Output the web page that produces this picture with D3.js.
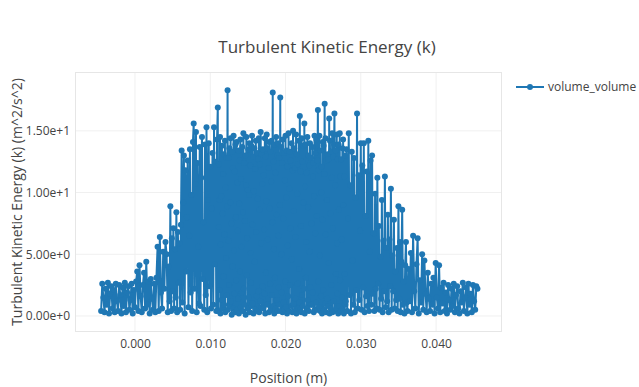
<!DOCTYPE html>
<html>
<head>
<meta charset="utf-8">
<script src="https://cdn.jsdelivr.net/npm/d3@7"></script>
<style>
  html, body { margin: 0; padding: 0; background: #fff; }
  text { font-family: "Open Sans", verdana, arial, sans-serif; }
</style>
</head>
<body>
<div id="chart"></div>
<script>
// --- DATA ---
const chartTitle = "Turbulent Kinetic Energy (k)";
const xTitle = "Position (m)";
const yTitle = "Turbulent Kinetic Energy (k) (m^2/s^2)";
const seriesName = "volume_volume";

const xTicks = [0, 0.01, 0.02, 0.03, 0.04];
const xTickLabels = ["0.000", "0.010", "0.020", "0.030", "0.040"];
const yTicks = [0, 5, 10, 15];
const yTickLabels = ["0.00e+0", "5.00e+0", "1.00e+1", "1.50e+1"];

// position (m)
const position = [
  // left tail
  -0.0045, -0.00435, -0.0042, -0.00405, -0.0039, -0.00375, -0.0036, -0.00345, -0.0033, -0.00315,
  -0.003, -0.00285, -0.0027, -0.00255, -0.0024, -0.00225, -0.0021, -0.00195, -0.0018, -0.00165,
  -0.0015, -0.00135, -0.0012, -0.00105, -0.0009, -0.00075, -0.0006, -0.00045, -0.0003, -0.00015,
  0, 0.00015, 0.0003, 0.00045, 0.0006, 0.00075, 0.0009, 0.00105, 0.0012, 0.00135,
  0.0015, 0.00165, 0.0018, 0.00195, 0.0021, 0.00225, 0.0024, 0.00255, 0.0027, 0.00285,
  0.003, 0.00315, 0.0033, 0.00345, 0.0036, 0.00375, 0.0039, 0.00405, 0.0042, 0.00435,
  0.0045,
  // rising flank
  0.0046, 0.0047, 0.0048, 0.0049, 0.0050, 0.0051, 0.0052, 0.0053, 0.0054, 0.0055,
  0.0056, 0.0057, 0.0058, 0.0059, 0.0060, 0.0061, 0.0062, 0.0063, 0.0064, 0.0065,
  0.0066, 0.0067, 0.0068, 0.0069, 0.0070, 0.0071, 0.0072, 0.0073, 0.0074, 0.0075,
  0.0076, 0.0077, 0.0078, 0.0079, 0.0080, 0.0081, 0.0082, 0.0083, 0.0084, 0.0085,
  0.0086, 0.0087, 0.0088, 0.0089, 0.0090, 0.0091, 0.0092, 0.0093, 0.0094, 0.0095,
  0.0096, 0.0097, 0.0098, 0.0099, 0.0100, 0.0101, 0.0102, 0.0103, 0.0104, 0.0105,
  0.0106, 0.0107, 0.0108, 0.0109,
  // dense core
  0.01100, 0.01105, 0.01110, 0.01115, 0.01120, 0.01125, 0.01130, 0.01135, 0.01140, 0.01145,
  0.01150, 0.01155, 0.01160, 0.01165, 0.01170, 0.01175, 0.01180, 0.01185, 0.01190, 0.01195,
  0.01200, 0.01205, 0.01210, 0.01215, 0.01220, 0.01225, 0.01230, 0.01235, 0.01240, 0.01245,
  0.01250, 0.01255, 0.01260, 0.01265, 0.01270, 0.01275, 0.01280, 0.01285, 0.01290, 0.01295,
  0.01300, 0.01305, 0.01310, 0.01315, 0.01320, 0.01325, 0.01330, 0.01335, 0.01340, 0.01345,
  0.01350, 0.01355, 0.01360, 0.01365, 0.01370, 0.01375, 0.01380, 0.01385, 0.01390, 0.01395,
  0.01400, 0.01405, 0.01410, 0.01415, 0.01420, 0.01425, 0.01430, 0.01435, 0.01440, 0.01445,
  0.01450, 0.01455, 0.01460, 0.01465, 0.01470, 0.01475, 0.01480, 0.01485, 0.01490, 0.01495,
  0.01500, 0.01505, 0.01510, 0.01515, 0.01520, 0.01525, 0.01530, 0.01535, 0.01540, 0.01545,
  0.01550, 0.01555, 0.01560, 0.01565, 0.01570, 0.01575, 0.01580, 0.01585, 0.01590, 0.01595,
  0.01600, 0.01605, 0.01610, 0.01615, 0.01620, 0.01625, 0.01630, 0.01635, 0.01640, 0.01645,
  0.01650, 0.01655, 0.01660, 0.01665, 0.01670, 0.01675, 0.01680, 0.01685, 0.01690, 0.01695,
  0.01700, 0.01705, 0.01710, 0.01715, 0.01720, 0.01725, 0.01730, 0.01735, 0.01740, 0.01745,
  0.01750, 0.01755, 0.01760, 0.01765, 0.01770, 0.01775, 0.01780, 0.01785, 0.01790, 0.01795,
  0.01800, 0.01805, 0.01810, 0.01815, 0.01820, 0.01825, 0.01830, 0.01835, 0.01840, 0.01845,
  0.01850, 0.01855, 0.01860, 0.01865, 0.01870, 0.01875, 0.01880, 0.01885, 0.01890, 0.01895,
  0.01900, 0.01905, 0.01910, 0.01915, 0.01920, 0.01925, 0.01930, 0.01935, 0.01940, 0.01945,
  0.01950, 0.01955, 0.01960, 0.01965, 0.01970, 0.01975, 0.01980, 0.01985, 0.01990, 0.01995,
  0.02000, 0.02005, 0.02010, 0.02015, 0.02020, 0.02025, 0.02030, 0.02035, 0.02040, 0.02045,
  0.02050, 0.02055, 0.02060, 0.02065, 0.02070, 0.02075, 0.02080, 0.02085, 0.02090, 0.02095,
  0.02100, 0.02105, 0.02110, 0.02115, 0.02120, 0.02125, 0.02130, 0.02135, 0.02140, 0.02145,
  0.02150, 0.02155, 0.02160, 0.02165, 0.02170, 0.02175, 0.02180, 0.02185, 0.02190, 0.02195,
  0.02200, 0.02205, 0.02210, 0.02215, 0.02220, 0.02225, 0.02230, 0.02235, 0.02240, 0.02245,
  0.02250, 0.02255, 0.02260, 0.02265, 0.02270, 0.02275, 0.02280, 0.02285, 0.02290, 0.02295,
  0.02300, 0.02305, 0.02310, 0.02315, 0.02320, 0.02325, 0.02330, 0.02335, 0.02340, 0.02345,
  0.02350, 0.02355, 0.02360, 0.02365, 0.02370, 0.02375, 0.02380, 0.02385, 0.02390, 0.02395,
  0.02400, 0.02405, 0.02410, 0.02415, 0.02420, 0.02425, 0.02430, 0.02435, 0.02440, 0.02445,
  0.02450, 0.02455, 0.02460, 0.02465, 0.02470, 0.02475, 0.02480, 0.02485, 0.02490, 0.02495,
  0.02500, 0.02505, 0.02510, 0.02515, 0.02520, 0.02525, 0.02530, 0.02535, 0.02540, 0.02545,
  0.02550, 0.02555, 0.02560, 0.02565, 0.02570, 0.02575, 0.02580, 0.02585, 0.02590, 0.02595,
  0.02600, 0.02605, 0.02610, 0.02615, 0.02620, 0.02625, 0.02630, 0.02635, 0.02640, 0.02645,
  0.02650, 0.02655, 0.02660, 0.02665, 0.02670, 0.02675, 0.02680, 0.02685, 0.02690, 0.02695,
  0.02700, 0.02705, 0.02710, 0.02715, 0.02720, 0.02725, 0.02730, 0.02735, 0.02740, 0.02745,
  0.02750, 0.02755, 0.02760, 0.02765, 0.02770, 0.02775, 0.02780, 0.02785, 0.02790, 0.02795,
  0.02800,
  // falling flank
  0.0281, 0.0282, 0.0283, 0.0284, 0.0285, 0.0286, 0.0287, 0.0288, 0.0289, 0.0290,
  0.0291, 0.0292, 0.0293, 0.0294, 0.0295, 0.0296, 0.0297, 0.0298, 0.0299, 0.0300,
  0.0301, 0.0302, 0.0303, 0.0304, 0.0305, 0.0306, 0.0307, 0.0308, 0.0309, 0.0310,
  0.0311, 0.0312, 0.0313, 0.0314, 0.0315, 0.0316, 0.0317, 0.0318, 0.0319, 0.0320,
  0.0321, 0.0322, 0.0323, 0.0324, 0.0325, 0.0326, 0.0327, 0.0328, 0.0329, 0.0330,
  0.0331, 0.0332, 0.0333, 0.0334, 0.0335, 0.0336, 0.0337, 0.0338, 0.0339, 0.0340,
  0.0341, 0.0342, 0.0343, 0.0344, 0.0345, 0.0346, 0.0347, 0.0348, 0.0349, 0.0350,
  0.0351, 0.0352, 0.0353, 0.0354, 0.0355, 0.0356, 0.0357, 0.0358, 0.0359, 0.0360,
  0.0361,
  // right tail
  0.0362, 0.03635, 0.0365, 0.03665, 0.0368, 0.03695, 0.0371, 0.03725, 0.0374, 0.03755,
  0.0377, 0.03785, 0.038, 0.03815, 0.0383, 0.03845, 0.0386, 0.03875, 0.0389, 0.03905,
  0.0392, 0.03935, 0.0395, 0.03965, 0.0398, 0.03995, 0.0401, 0.04025, 0.0404, 0.04055,
  0.0407, 0.04085, 0.041, 0.04115, 0.0413, 0.04145, 0.0416, 0.04175, 0.0419, 0.04205,
  0.0422, 0.04235, 0.0425, 0.04265, 0.0428, 0.04295, 0.0431, 0.04325, 0.0434, 0.04355,
  0.0437, 0.04385, 0.044, 0.04415, 0.0443, 0.04445, 0.0446, 0.04475, 0.0449, 0.04505,
  0.0452, 0.04535, 0.0455
];

// turbulent kinetic energy k (m^2/s^2), same order as position
const tke = [
  // left tail
  0.4, 2.6, 1.5, 0.3, 2.2, 0.9, 2.7, 0.2, 1.8, 2.4,
  0.6, 2.1, 0.3, 2.6, 1.2, 0.4, 2.5, 1.7, 0.2, 2.3,
  0.8, 2.7, 0.3, 1.9, 2.4, 0.5, 1.3, 2.6, 0.2, 2.1,
  0.7, 2.8, 3.6, 0.4, 4.1, 1.6, 0.3, 2.5, 3.5, 0.6,
  4.4, 0.9, 2.8, 0.2, 3.0, 1.4, 0.5, 2.6, 0.3, 3.1,
  5.6, 0.4, 6.4, 1.9, 0.6, 5.2, 2.2, 6.0, 5.0, 0.3,
  4.0,
  // rising flank
  1.2, 8.9, 0.4, 6.3, 2.0, 7.1, 0.6, 5.4, 1.5, 8.4,
  0.3, 6.8, 2.7, 5.9, 0.5, 7.4, 13.4, 1.1, 9.2, 13.0,
  0.2, 11.8, 3.6, 8.0, 12.6, 0.7, 6.5, 13.5, 1.9, 9.8,
  0.4, 14.1, 15.6, 2.2, 10.7, 14.9, 0.3, 12.4, 5.6, 1.0,
  13.7, 0.8, 11.2, 14.5, 3.0, 7.6, 0.5, 13.9, 1.7, 15.3,
  0.3, 9.4, 14.0, 2.4, 12.1, 0.6, 8.7, 13.2, 0.9, 15.3,
  4.2, 12.5, 0.4, 14.3,
  // dense core
  16.9, 0.4, 7.2, 12.3, 2.1, 9.4, 14.5, 0.2, 5.8, 9.7,
  1.3, 13.8, 0.6, 8.3, 11.5, 3.2, 13.1, 0.9, 6.6, 14.2,
  0.3, 10.4, 4.7, 12.8, 1.7, 8.9, 18.3, 0.5, 12.8, 6.1,
  2.5, 13.6, 0.8, 9.2, 14.4, 1.2, 7.5, 0.1, 13.3, 4.0,
  12.0, 0.6, 14.6, 5.3, 1.8, 11.7, 0.3, 13.9, 8.0, 2.9,
  14.1, 0.5, 10.8, 6.9, 1.4, 13.4, 0.2, 9.1, 12.6, 3.6,
  14.3, 0.7, 11.1, 5.6, 1.9, 13.7, 0.4, 8.4, 14.8, 2.2,
  12.4, 0.9, 7.7, 13.0, 0.1, 10.6, 14.5, 3.3, 6.3, 10.2,
  0.6, 13.5, 1.5, 9.8, 14.0, 0.3, 12.2, 5.1, 2.7, 13.8,
  0.8, 14.6, 7.4, 1.0, 12.9, 0.2, 10.1, 13.6, 4.4, 11.9,
  0.5, 14.2, 6.8, 1.6, 13.2, 0.4, 9.5, 12.7, 2.0, 14.4,
  0.3, 8.6, 12.3, 1.2, 14.9, 5.9, 0.7, 13.1, 10.7, 2.4,
  13.5, 0.6, 11.4, 7.0, 1.8, 14.4, 0.2, 12.9, 3.5, 9.3,
  14.7, 0.9, 13.6, 6.2, 1.4, 12.0, 0.3, 14.1, 8.7, 2.6,
  13.3, 0.5, 10.9, 14.2, 1.7, 7.6, 18.1, 0.8, 12.5, 5.4,
  0.2, 13.9, 3.1, 11.6, 0.6, 14.5, 8.2, 1.3, 13.0, 0.4,
  14.0, 6.5, 2.3, 12.8, 0.9, 9.0, 17.7, 0.4, 13.7, 5.0,
  1.9, 12.4, 0.3, 14.3, 7.9, 1.1, 13.2, 0.5, 11.0, 2.8,
  14.6, 0.7, 9.6, 13.4, 0.2, 12.1, 5.7, 1.6, 14.8, 0.4,
  10.3, 13.3, 2.5, 7.1, 12.6, 0.8, 14.0, 4.6, 0.3, 11.8,
  15.0, 1.0, 8.5, 13.6, 0.4, 12.0, 6.4, 1.4, 14.7, 0.2,
  13.1, 9.9, 2.6, 12.3, 0.6, 14.2, 3.8, 1.1, 16.2, 0.5,
  11.7, 7.3, 0.3, 14.4, 1.7, 12.5, 0.8, 9.2, 13.8, 2.2,
  15.6, 0.2, 10.5, 13.9, 3.1, 6.0, 11.6, 0.6, 14.5, 1.3,
  8.8, 13.0, 0.4, 12.2, 5.2, 14.0, 2.3, 0.9, 12.8, 7.5,
  0.9, 13.7, 1.9, 11.3, 12.4, 0.3, 9.7, 14.6, 0.5, 6.7,
  13.2, 1.1, 14.3, 8.1, 0.5, 12.6, 16.7, 2.8, 11.8, 0.7,
  14.6, 4.9, 0.4, 13.4, 1.6, 10.0, 12.1, 0.2, 7.8, 14.1,
  2.1, 13.8, 0.5, 11.5, 17.2, 1.0, 14.4, 6.6, 0.3, 12.6,
  9.4, 1.4, 13.1, 0.8, 12.7, 4.3, 16.0, 0.2, 14.2, 8.3,
  0.6, 13.3, 2.5, 11.2, 14.8, 0.3, 7.1, 12.9, 1.2, 13.9,
  16.4, 0.4, 10.6, 13.4, 3.4, 0.6, 14.7, 5.9, 1.8, 12.7,
  0.2, 13.9, 8.6, 0.8, 14.8, 2.9, 11.3, 0.4, 12.7, 6.2,
  1.5, 13.6, 0.6, 14.3, 9.0, 0.2, 11.3, 3.4, 13.0, 0.9,
  1.2,
  // falling flank
  13.5, 0.4, 7.9, 14.8, 1.7, 10.6, 0.2, 13.3, 4.5, 0.9,
  12.8, 0.3, 9.6, 2.1, 16.4, 0.6, 11.4, 1.3, 6.9, 14.0,
  0.5, 12.2, 2.3, 14.0, 0.3, 8.1, 1.6, 11.7, 0.8, 14.2,
  0.4, 5.2, 12.6, 0.9, 13.0, 1.8, 6.7, 0.4, 9.9, 2.2,
  0.6, 11.2, 2.6, 7.3, 0.5, 4.8, 1.4, 9.4, 0.3, 6.1,
  2.0, 11.3, 0.7, 5.5, 1.2, 8.2, 0.3, 6.2, 2.4, 10.3,
  0.5, 4.9, 2.0, 7.8, 0.6, 3.6, 1.3, 5.5, 0.4, 8.9,
  1.4, 6.0, 0.3, 4.4, 8.6, 0.9, 2.8, 0.2, 4.1, 6.0,
  1.1,
  // right tail
  0.4, 3.8, 1.2, 5.1, 0.3, 6.5, 2.0, 0.6, 4.2, 6.3,
  0.2, 2.9, 1.1, 5.0, 0.5, 4.5, 1.8, 0.3, 3.5, 1.4,
  0.4, 2.6, 0.9, 3.1, 0.2, 4.3, 1.5, 0.6, 4.1, 0.3,
  2.3, 1.0, 2.7, 0.4, 1.9, 0.2, 2.5, 1.3, 0.5, 2.2,
  0.8, 2.6, 0.3, 1.7, 2.4, 0.6, 0.2, 2.0, 1.1, 2.7,
  0.4, 1.5, 2.3, 0.2, 2.6, 0.9, 1.8, 0.3, 2.5, 1.2,
  0.5, 2.4, 2.2
];

const width = 639;
const height = 387;
const margin = { top: 72, right: 137, bottom: 55, left: 75 };
const plotW = width - margin.left - margin.right;
const plotH = height - margin.top - margin.bottom;

const lineColor = "#1f77b4";
const textColor = "#444";

const data = position.map((x, i) => ({ x: x, y: tke[i] }));

const x = d3.scaleLinear()
    .domain([-0.00797, 0.04876])
    .range([0, plotW]);

const y = d3.scaleLinear()
    .domain([-1.30, 19.77])
    .range([plotH, 0]);

const svg = d3.select("#chart").append("svg")
    .attr("width", width)
    .attr("height", height)
    .style("display", "block")
    .style("background", "#fff");

const g = svg.append("g")
    .attr("transform", `translate(${margin.left},${margin.top})`);

// grid lines
g.append("g")
    .selectAll("line")
    .data(xTicks)
    .join("line")
    .attr("x1", d => x(d)).attr("x2", d => x(d))
    .attr("y1", 0).attr("y2", plotH)
    .attr("stroke", "#f0f0f0")
    .attr("stroke-width", 1);

g.append("g")
    .selectAll("line")
    .data(yTicks)
    .join("line")
    .attr("x1", 0).attr("x2", plotW)
    .attr("y1", d => y(d)).attr("y2", d => y(d))
    .attr("stroke", "#f0f0f0")
    .attr("stroke-width", 1);

// plot frame
g.append("rect")
    .attr("x", 0.5).attr("y", 0.5)
    .attr("width", plotW - 1).attr("height", plotH - 1)
    .attr("fill", "none")
    .attr("stroke", "#e6e6e6")
    .attr("stroke-width", 1);

// --- SERIES ---
const line = d3.line()
    .x(d => x(d.x))
    .y(d => y(d.y));

g.append("path")
    .datum(data)
    .attr("fill", "none")
    .attr("stroke", lineColor)
    .attr("stroke-width", 2)
    .attr("stroke-linejoin", "round")
    .attr("d", line);

g.append("g")
    .selectAll("circle")
    .data(data)
    .join("circle")
    .attr("cx", d => x(d.x))
    .attr("cy", d => y(d.y))
    .attr("r", 3)
    .attr("fill", lineColor);

// --- AXES ---
const xAxis = d3.axisBottom(x)
    .tickValues(xTicks)
    .tickFormat((d, i) => xTickLabels[i])
    .tickSize(0)
    .tickPadding(7);

const yAxis = d3.axisLeft(y)
    .tickValues(yTicks)
    .tickFormat((d, i) => yTickLabels[i])
    .tickSize(0)
    .tickPadding(5);

const gx = g.append("g")
    .attr("transform", `translate(0,${plotH})`)
    .call(xAxis);
const gy = g.append("g").call(yAxis);

[gx, gy].forEach(a => {
    a.select(".domain").remove();
    a.selectAll("text")
        .attr("fill", textColor)
        .style("font-size", "12px");
});

// --- TITLES ---
svg.append("text")
    .attr("x", 327)
    .attr("y", 53)
    .attr("text-anchor", "middle")
    .attr("fill", textColor)
    .style("font-size", "17px")
    .text(chartTitle);

svg.append("text")
    .attr("x", margin.left + plotW / 2)
    .attr("y", 383)
    .attr("text-anchor", "middle")
    .attr("fill", textColor)
    .style("font-size", "14px")
    .text(xTitle);

svg.append("text")
    .attr("transform", `translate(22,${margin.top + plotH / 2}) rotate(-90)`)
    .attr("text-anchor", "middle")
    .attr("fill", textColor)
    .style("font-size", "14px")
    .text(yTitle);

// --- LEGEND ---
const legend = svg.append("g")
    .attr("transform", "translate(516,87)");

legend.append("line")
    .attr("x1", 0).attr("x2", 28)
    .attr("y1", 0).attr("y2", 0)
    .attr("stroke", lineColor)
    .attr("stroke-width", 2);

legend.append("circle")
    .attr("cx", 14).attr("cy", 0)
    .attr("r", 3)
    .attr("fill", lineColor);

legend.append("text")
    .attr("x", 32)
    .attr("y", 4)
    .attr("fill", textColor)
    .style("font-size", "12px")
    .text(seriesName);
</script>
</body>
</html>
